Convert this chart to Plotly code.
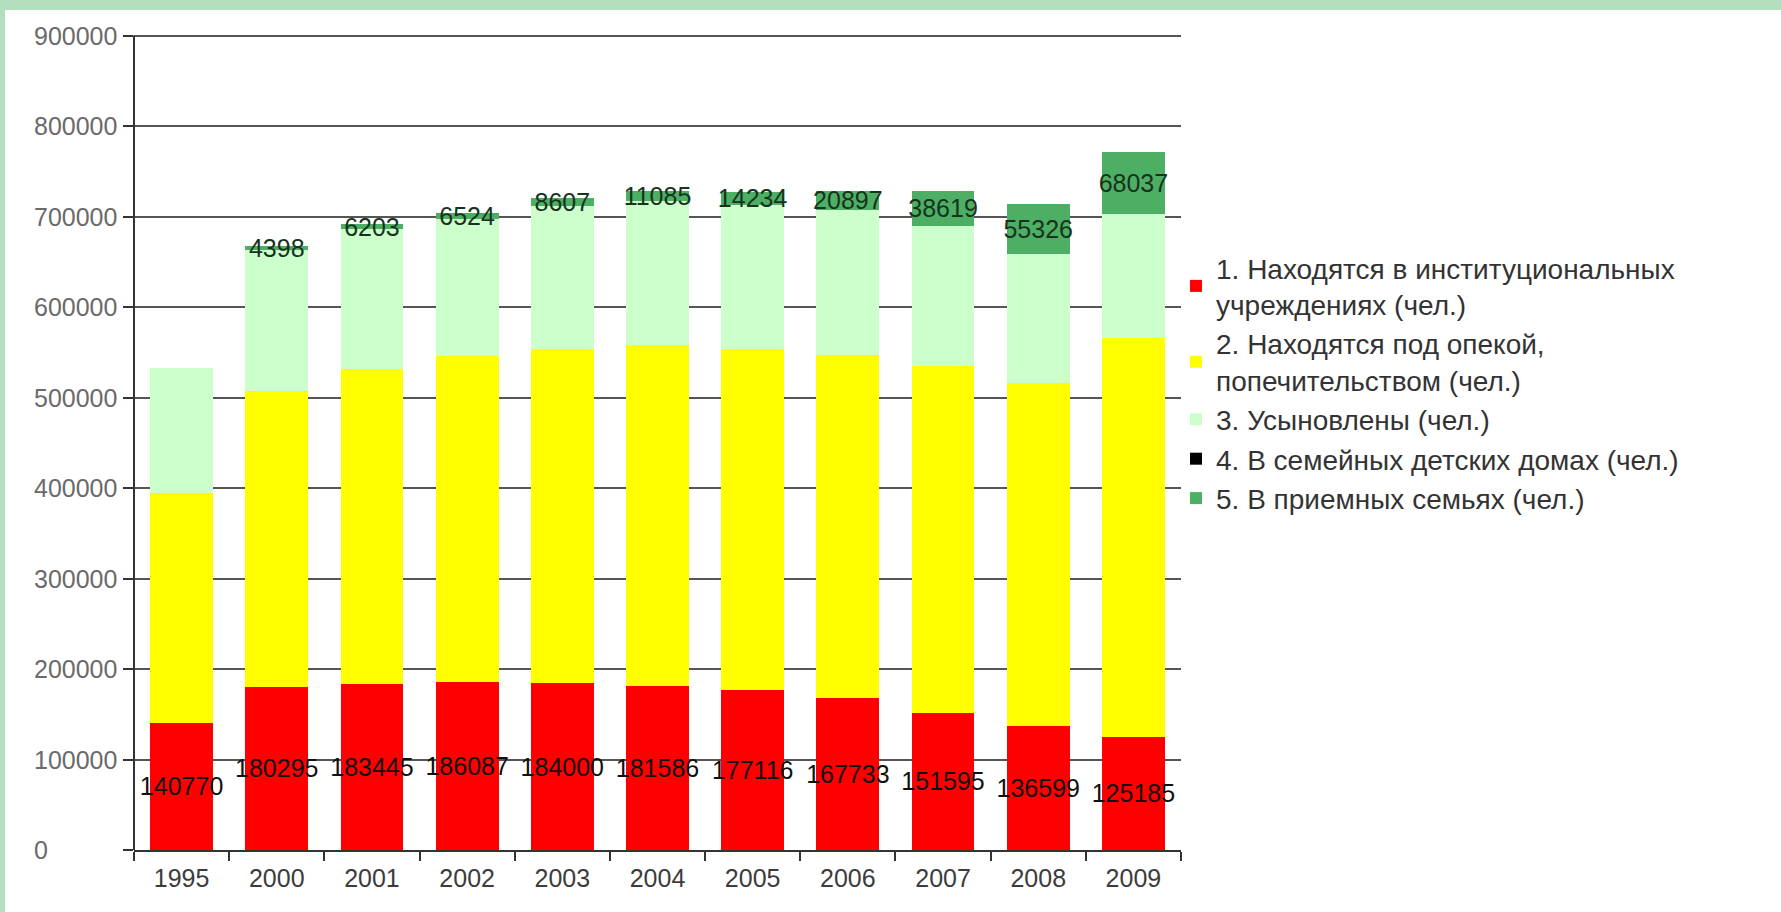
import plotly.graph_objects as go

# Children left without parental care, by form of placement (persons)
years = ["1995", "2000", "2001", "2002", "2003", "2004", "2005", "2006", "2007", "2008", "2009"]

institutions = [140770, 180295, 183445, 186087, 184000, 181586, 177116, 167733, 151595, 136599, 125185]
guardianship = [253800, 327100, 348500, 360200, 369700, 376900, 376600, 379000, 382800, 379300, 440700]
adopted = [138400, 155200, 153900, 151200, 158300, 158400, 159300, 160700, 155200, 142800, 137100]
family_homes = [0, 0, 0, 0, 0, 0, 0, 0, 0, 0, 0]
foster_families = [0, 4398, 6203, 6524, 8607, 11085, 14234, 20897, 38619, 55326, 68037]

series_names = [
    "1. Находятся в институциональных<br>учреждениях (чел.)",
    "2. Находятся под опекой,<br>попечительством (чел.)",
    "3. Усыновлены (чел.)",
    "4. В семейных детских домах (чел.)",
    "5. В приемных семьях (чел.)",
]
series_colors = ["#ff0000", "#ffff00", "#ccffcc", "#000000", "#4caf64"]

y_ticks = [0, 100000, 200000, 300000, 400000, 500000, 600000, 700000, 800000, 900000]
y_top = 905000

FONT = "Liberation Sans, Arial, sans-serif"
W, H = 1781, 912
M_L, M_R, M_T, M_B = 134, 600, 31, 62

fig = go.Figure()

series_values = [institutions, guardianship, adopted, family_homes, foster_families]
label_series = {0: "#111111", 4: "#17331d"}

for i, (name, vals, col) in enumerate(zip(series_names, series_values, series_colors)):
    kw = {}
    if i in label_series:
        kw = dict(
            text=[str(v) if v else "" for v in vals],
            textposition="inside",
            insidetextanchor="middle",
            textangle=0,
            constraintext="none",
            insidetextfont=dict(family=FONT, size=25, color=label_series[i]),
        )
    fig.add_trace(go.Bar(
        x=years, y=vals, name=name,
        marker=dict(color=col, line=dict(width=0)),
        hoverinfo="x+y+name",
        **kw,
    ))

# y tick labels, left aligned in the margin
for v in y_ticks:
    fig.add_annotation(
        x=0, xref="paper", y=v, yref="y", text=str(v), showarrow=False,
        xanchor="left", yanchor="middle", xshift=-(M_L - 32),
        font=dict(family=FONT, size=25, color="#6a6a6a"),
    )

# green frame strips along the top and left edge of the page
pw, ph = W - M_L - M_R, H - M_T - M_B
def px_x(x):
    return (x - M_L) / pw
def px_y(y):
    return 1 - (y - M_T) / ph
frame = "#b3dfbf"
fig.add_shape(type="rect", xref="paper", yref="paper",
              x0=px_x(0), x1=px_x(W), y0=px_y(10), y1=px_y(0),
              fillcolor=frame, line=dict(width=0), layer="above")
fig.add_shape(type="rect", xref="paper", yref="paper",
              x0=px_x(0), x1=px_x(5), y0=px_y(H), y1=px_y(0),
              fillcolor=frame, line=dict(width=0), layer="above")

fig.update_layout(
    width=W, height=H,
    margin=dict(l=M_L, r=M_R, t=M_T, b=M_B, pad=0),
    paper_bgcolor="white", plot_bgcolor="white",
    barmode="stack", bargap=0.34,
    font=dict(family=FONT, size=25, color="#333333"),
    showlegend=True,
    legend=dict(
        x=px_x(1176), y=px_y(243), xanchor="left", yanchor="top",
        traceorder="normal", font=dict(family=FONT, size=28, color="#333333"),
        bgcolor="rgba(0,0,0,0)", itemwidth=30, tracegroupgap=0,
    ),
    xaxis=dict(
        type="category", showline=True, linecolor="#333333", linewidth=2,
        ticks="outside", ticklen=9, tickwidth=2, tickcolor="#333333",
        tickson="boundaries", showgrid=False, zeroline=False,
        ticklabelstandoff=5,
        tickfont=dict(family=FONT, size=25, color="#3c3c3c"),
    ),
    yaxis=dict(
        range=[0, y_top], tickvals=y_ticks, showticklabels=False,
        showline=False,
        ticks="outside", ticklen=10, tickwidth=2, tickcolor="#333333",
        showgrid=True, gridcolor="#555555", gridwidth=2, zeroline=False,
    ),
)

# vertical axis line from 0 up to the top tick
fig.add_shape(type="line", xref="paper", yref="y", x0=0, x1=0,
              y0=y_ticks[0], y1=y_ticks[-1],
              line=dict(color="#333333", width=2), layer="above")

fig.write_html("out.html")
